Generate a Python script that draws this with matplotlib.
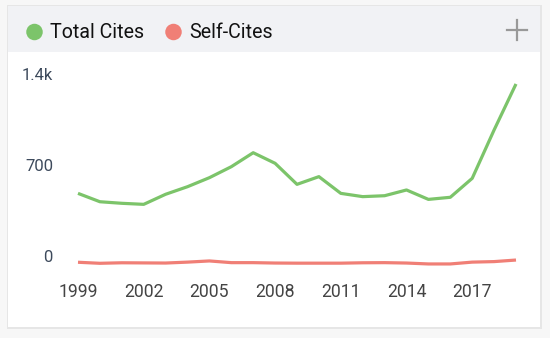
import matplotlib
matplotlib.use("Agg")
import matplotlib.pyplot as plt
from matplotlib.patches import Rectangle, Ellipse
from matplotlib.transforms import ScaledTranslation
from matplotlib.lines import Line2D

years = list(range(1999, 2020))
total_cites = [548, 484, 472, 464, 541, 599, 668, 752, 859, 778, 617, 676,
               548, 523, 530, 574, 502, 518, 663, 1033, 1385]
self_cites = [21, 13, 17, 16, 15, 22, 31, 18, 18, 15, 14, 14,
              14, 17, 18, 15, 8, 8, 22, 26, 38]
series_names = ["Total Cites", "Self-Cites"]
series_colors = ["#7cc46a", "#f07f76"]
xtick_years = [1999, 2002, 2005, 2008, 2011, 2014, 2017]
ytick_vals = [0, 700, 1400]
ytick_labels = ["0", "700", "1.4k"]

W, H = 550, 338
plt.rcParams['font.family'] = ['Roboto', 'DejaVu Sans']
fig = plt.figure(figsize=(W / 100, H / 100), dpi=100)
fig.patch.set_facecolor("#f7f7f7")


def fx(x):
    return x / W


def fy(y):
    return 1 - y / H


# card shadow + card
fig.patches.append(Rectangle((fx(7), fy(329)), fx(535), (329 - 5) / H,
                             transform=fig.transFigure, facecolor="#e6e6e6",
                             edgecolor="none", zorder=-3))
fig.patches.append(Rectangle((fx(8), fy(327)), fx(532), (327 - 6) / H,
                             transform=fig.transFigure, facecolor="white",
                             edgecolor="none", zorder=-2))
# header band
fig.patches.append(Rectangle((fx(8), fy(52)), fx(532), (52 - 6) / H,
                             transform=fig.transFigure, facecolor="#f1f2f5",
                             edgecolor="none", zorder=-1))

# legend
leg_items = [(34.5, 50), (173.5, 189.5)]
for (cx, tx), name, col in zip(leg_items, series_names, series_colors):
    fig.patches.append(Ellipse((fx(cx), fy(32)), 16.5 / W, 16.5 / H,
                               transform=fig.transFigure, facecolor=col,
                               edgecolor="none", zorder=1))
    fig.text(fx(tx), fy(32), name, fontsize=14.1, color="#111111",
             va="center", ha="left")

# plus icon
fig.lines.append(Line2D([fx(507), fx(527)], [fy(30), fy(30)],
                        transform=fig.transFigure, color="#999999", lw=1.6))
fig.lines.append(Line2D([fx(517), fx(517)], [fy(20), fy(40)],
                        transform=fig.transFigure, color="#999999", lw=1.6))

# plot axes: 1999->x78, 2019->x516, 0->y265, 1400->y82
ax = fig.add_axes([fx(78), fy(265), (516 - 78) / W, (265 - 82) / H])
ax.set_zorder(5)
ax.set_facecolor("none")
ax.plot(years, total_cites, color=series_colors[0], lw=2.3, clip_on=False,
        solid_joinstyle="round", solid_capstyle="butt")
ax.plot(years, self_cites, color=series_colors[1], lw=2.3, clip_on=False,
        solid_joinstyle="round", solid_capstyle="butt")
ax.set_xlim(1999, 2019)
ax.set_ylim(0, 1400)
for s in ax.spines.values():
    s.set_visible(False)
ax.set_xticks(xtick_years)
ax.set_xticklabels([str(y) for y in xtick_years])
ax.set_yticks(ytick_vals)
ax.set_yticklabels(ytick_labels)
ax.tick_params(axis="x", length=0, pad=13.3, labelsize=12.7, labelcolor="#444444")
ax.tick_params(axis="y", length=0, pad=18, labelsize=12, labelcolor="#3d4a5c")
off = ScaledTranslation(0, 8.5 / 100, fig.dpi_scale_trans)
for lab in ax.get_yticklabels():
    lab.set_transform(lab.get_transform() + off)

fig.savefig("out.png", dpi=100, facecolor=fig.get_facecolor())
